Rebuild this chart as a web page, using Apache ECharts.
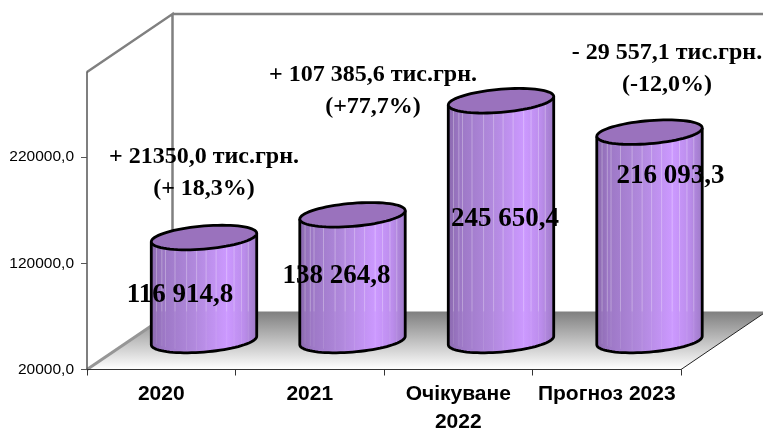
<!DOCTYPE html>
<html>
<head>
<meta charset="utf-8">
<title>chart</title>
<script src="https://cdn.jsdelivr.net/npm/echarts@6/dist/echarts.min.js"></script>
<style>
  html, body { margin: 0; padding: 0; background: #fff; }
  #chart { width: 763px; height: 431px; }
</style>
</head>
<body>
<div id="chart"></div>
<script>
const categories = ['2020', '2021', 'Очікуване\n2022', 'Прогноз 2023'];
const values = [116914.8, 138264.8, 245650.4, 216093.3];
const yTicks = [20000, 120000, 220000];
const notes = [
  '+ 21350,0 тис.грн.\n(+ 18,3%)',
  '+ 107 385,6 тис.грн.\n(+77,7%)',
  '- 29 557,1 тис.грн.\n(-12,0%)'
];

// 3d box projection
const depthX = 85.5;
const depthY = 58;
const radiusX = 49.5;
const radiusDepth = 0.212; // share of the depth vector
const stripes = [0.05, 0.1, 0.135, 0.225, 0.335, 0.43, 0.52, 0.615, 0.715, 0.785, 0.855, 0.92];
const labelShift = [[-24, 58], [-16, 61], [4, 118], [21, 44]];

const fmtValue = (v) => {
  const [whole, frac] = v.toFixed(1).split('.');
  return whole.replace(/\B(?=(\d{3})+$)/g, ' ') + ',' + frac;
};

const ellipsePoint = (cx, cy, t) => [
  cx + radiusX * Math.cos(t) + depthX * radiusDepth * Math.sin(t),
  cy - depthY * radiusDepth * Math.sin(t)
];

const renderFrame = (params) => {
  const g = params.coordSys;
  const left = g.x;
  const right = g.x + g.width;
  const top = g.y;
  const bottom = g.y + g.height;
  const wall = { stroke: '#808080', lineWidth: 2.5, fill: null };
  return {
    type: 'group',
    children: [
      {
        type: 'polygon',
        shape: { points: [[left, bottom], [right, bottom], [right + depthX, bottom - depthY], [left + depthX, bottom - depthY]] },
        style: {
          fill: new echarts.graphic.LinearGradient(0, 0, 0, 1, [
            { offset: 0, color: '#7f7f7f' },
            { offset: 1, color: '#ffffff' }
          ])
        }
      },
      { type: 'line', shape: { x1: left, y1: bottom, x2: left + depthX, y2: bottom - depthY }, style: { stroke: '#969696', lineWidth: 3 } },
      { type: 'line', shape: { x1: right, y1: bottom, x2: right + depthX, y2: bottom - depthY }, style: { stroke: '#222', lineWidth: 1 } },
      { type: 'polyline', shape: { points: [[left, top], [left + depthX, top - depthY], [left + depthX, bottom - depthY]] }, style: wall },
      { type: 'line', shape: { x1: left + depthX, y1: top - depthY, x2: right + depthX, y2: top - depthY }, style: wall }
    ]
  };
};

const renderCylinder = (params, api) => {
  const base = api.coord([api.value(0), yTicks[0]]);
  const head = api.coord([api.value(0), api.value(1)]);
  const cx = base[0] + depthX / 2;
  const bottomY = base[1] - depthY / 2;
  const topY = head[1] - depthY / 2;
  const floorBack = base[1] - depthY;
  const halfW = Math.hypot(radiusX, depthX * radiusDepth);
  const turn = Math.atan2(depthX * radiusDepth, radiusX);

  // body outline: left side, near half of the base, right side
  const lower = [];
  for (let i = 0; i <= 40; i++) {
    lower.push(ellipsePoint(cx, bottomY, Math.PI + turn + (Math.PI * i) / 40));
  }
  const outline = [ellipsePoint(cx, topY, Math.PI + turn)].concat(lower, [ellipsePoint(cx, topY, turn)]);

  const topEllipse = [];
  for (let i = 0; i <= 72; i++) {
    topEllipse.push(ellipsePoint(cx, topY, (Math.PI * 2 * i) / 72));
  }

  const x0 = cx - halfW;
  const children = [
    {
      type: 'polygon',
      shape: { points: outline },
      style: {
        fill: new echarts.graphic.LinearGradient(x0, 0, x0 + 2 * halfW, 0, [
          { offset: 0, color: '#8c6ab0' },
          { offset: 0.12, color: '#9d78c6' },
          { offset: 0.4, color: '#b088dc' },
          { offset: 0.72, color: '#cc99ff' },
          { offset: 0.88, color: '#bb8deb' },
          { offset: 1, color: '#9f7bc8' }
        ], true)
      }
    }
  ];
  stripes.forEach((s) => {
    const x = x0 + s * 2 * halfW;
    const c = (x - cx) / halfW;
    const yEnd = bottomY + depthY * radiusDepth * Math.sqrt(Math.max(0, 1 - c * c)) - 2;
    // the stripes fade where the cylinder stands in front of the floor
    children.push({
      type: 'line',
      shape: { x1: x, y1: topY, x2: x, y2: floorBack },
      style: { stroke: 'rgba(255,255,255,0.3)', lineWidth: 1 }
    });
    children.push({
      type: 'line',
      shape: { x1: x, y1: floorBack, x2: x, y2: yEnd },
      style: { stroke: 'rgba(255,255,255,0.1)', lineWidth: 1 }
    });
  });
  children.push({
    type: 'polyline',
    shape: { points: outline },
    style: { fill: null, stroke: '#000', lineWidth: 2.8, lineJoin: 'round' }
  });
  children.push({
    type: 'polygon',
    shape: { points: topEllipse },
    style: { fill: '#9a72bd', stroke: '#000', lineWidth: 2.8 }
  });
  const shift = labelShift[params.dataIndex];
  children.push({
    type: 'text',
    style: {
      x: cx + shift[0],
      y: topY + shift[1],
      text: fmtValue(api.value(1)),
      font: 'bold 27px "Liberation Serif"',
      fill: '#000',
      align: 'center',
      verticalAlign: 'middle'
    },
    z2: 10
  });
  return { type: 'group', children };
};

const noteStyle = { font: 'bold 24px "Liberation Serif"', fill: '#000', textAlign: 'center', textVerticalAlign: 'middle', lineHeight: 32 };

const chart = echarts.init(document.getElementById('chart'));
chart.setOption({
  animation: false,
  grid: { left: 87, right: 82, top: 72, bottom: 61.5, outerBoundsMode: 'none' },
  xAxis: {
    type: 'category',
    data: categories,
    z: 5,
    axisLine: { lineStyle: { color: '#333', width: 1 } },
    axisTick: { show: true, length: 6, lineStyle: { color: '#333' } },
    axisLabel: {
      interval: 0,
      margin: 11,
      lineHeight: 28,
      fontFamily: 'Liberation Sans',
      fontWeight: 'bold',
      fontSize: 21,
      color: '#000'
    }
  },
  yAxis: {
    type: 'value',
    min: 20000,
    max: 300000,
    z: 5,
    splitLine: { show: false },
    axisLine: { show: true, lineStyle: { color: '#555', width: 1.5 } },
    axisTick: { show: true, length: 6, customValues: yTicks, lineStyle: { color: '#555' } },
    axisLabel: {
      customValues: yTicks,
      margin: 13,
      fontFamily: 'Liberation Sans',
      fontSize: 15.5,
      color: '#000',
      formatter: (v) => v.toFixed(1).replace('.', ',')
    }
  },
  series: [
    { type: 'custom', coordinateSystem: 'cartesian2d', z: 1, silent: true, renderItem: renderFrame, data: [[0, 20000]], encode: { x: 0, y: 1 } },
    {
      type: 'custom',
      coordinateSystem: 'cartesian2d',
      z: 3,
      renderItem: renderCylinder,
      encode: { x: 0, y: 1 },
      data: values.map((v, i) => [i, v])
    }
  ],
  graphic: [
    { type: 'text', x: 204, y: 173, z: 20, style: Object.assign({ text: notes[0] }, noteStyle) },
    { type: 'text', x: 373, y: 91, z: 20, style: Object.assign({ text: notes[1] }, noteStyle) },
    { type: 'text', x: 667, y: 69, z: 20, style: Object.assign({ text: notes[2] }, noteStyle) }
  ]
});
</script>
</body>
</html>
